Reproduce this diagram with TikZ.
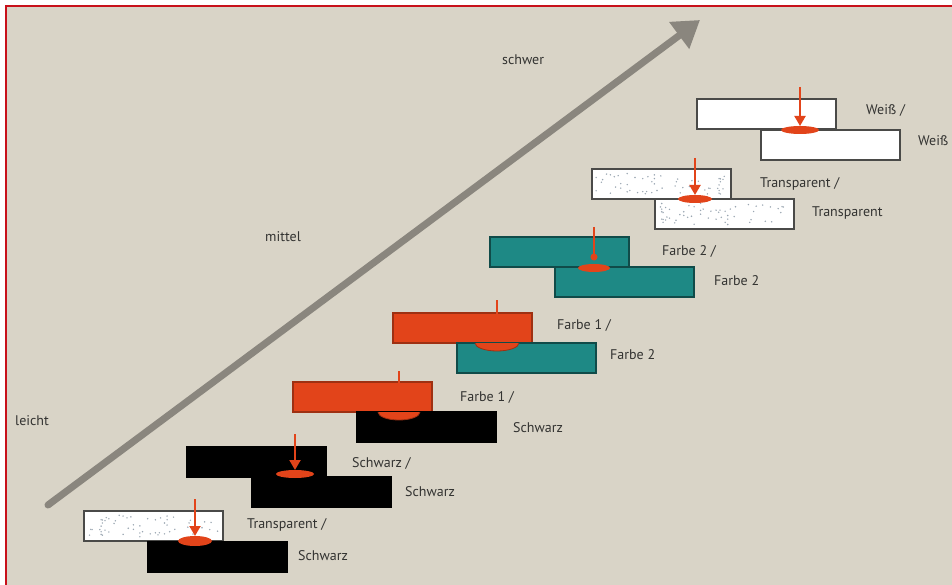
\documentclass[tikz,border=0pt]{standalone}
\usepackage{fontspec}
\setmainfont{PT Sans}
\usetikzlibrary{arrows.meta,calc}
\definecolor{bg}{HTML}{D9D4C7}
\definecolor{frame}{HTML}{C8101A}
\definecolor{bigarrow}{HTML}{8A867E}
\definecolor{rd}{HTML}{E2441A}
\definecolor{tl}{HTML}{1E8985}
\definecolor{boxline}{HTML}{4A4A48}
\definecolor{txt}{HTML}{333331}
\definecolor{speck}{HTML}{9AA6B2}
\tikzset{
  plate/.style={draw=boxline, line width=1.3pt, minimum width=139pt, minimum height=30pt, inner sep=0pt, outer sep=0pt, anchor=north west},
  whiteplate/.style={plate, fill=white},
  redplate/.style={plate, fill=rd, draw=rd!70!black},
  tealplate/.style={plate, fill=tl, draw=tl!55!black},
  blackplate/.style={plate, fill=black, draw=black},
  lbl/.style={anchor=west, text=txt, inner sep=0pt, font=\fontsize{14}{16}\selectfont},
  redarrow/.style={draw=rd, line width=2pt, -{Triangle[length=10pt,width=11pt]}},
  redtick/.style={draw=rd, line width=2pt},
  weld/.style={fill=rd},
}
\newcommand{\specks}[2]{%
  \begin{scope}
    \clip (#1.south west) rectangle (#1.north east);
    \foreach \i in {1,...,55}{
      \pgfmathsetmacro{\rx}{0.03+0.94*mod(mod(\i*\i,97)*17+\i*31+#2,101)/101}
      \pgfmathsetmacro{\ry}{mod(mod(\i*\i,89)*29+\i*13+#2*5,83)/83}
      \fill[speck] ($(#1.north west)!\rx!(#1.north east) + (0,4+22*\ry)$) circle (0.8pt);
    }
  \end{scope}}
\begin{document}
\begin{tikzpicture}[x=1pt,y=-1pt]
\useasboundingbox (0,0) rectangle (952,585);
\clip (0,0) rectangle (952,585);
\fill[white] (0,0) rectangle (952,585);
\fill[bg] (6,6) rectangle (952,585);
\draw[frame, line width=2.2pt] (6,585) -- (6,6) -- (952,6);

% big arrow
\coordinate (as) at (48,505);
\coordinate (ae) at (700,20);
\draw[bigarrow, line width=7pt, line cap=round, -{Triangle[length=26pt,width=32pt]}] (as) -- (ae);

\node[lbl] (schwer) at (502,60) {schwer};
\node[lbl] (mittel) at (265,237) {mittel};
\node[lbl] (leicht) at (15,421) {leicht};

% 1 Weiss / Weiss
\node[whiteplate] (w1) at (697,99) {};
\node[whiteplate] (w2) at (761,130) {};
\fill[weld] (800,130) ellipse [x radius=19, y radius=4];
\coordinate (w0) at (800,87);
\coordinate (wt) at (800,126);
\draw[redarrow] (w0) -- (wt);
\node[lbl] (wl1) at (866,110) {Weiß /};
\node[lbl] (wl2) at (918,141) {Weiß};

% 2 Transparent / Transparent
\node[whiteplate] (t1) at (592,169) {};
\specks{t1}{3}
\node[whiteplate] (t2) at (655,199) {};
\specks{t2}{11}
\fill[weld] (695,199) ellipse [x radius=17, y radius=4];
\coordinate (t0) at (695,158);
\coordinate (tt) at (695,195);
\draw[redarrow] (t0) -- (tt);
\node[lbl] (tl1) at (760,184) {Transparent /};
\node[lbl] (tl2) at (812,213) {Transparent};

% 3 Farbe 2 / Farbe 2
\node[tealplate] (f1) at (490,237) {};
\node[tealplate] (f2) at (555,267) {};
\fill[weld] (594,268) ellipse [x radius=16, y radius=4];
\coordinate (f0) at (594,227);
\draw[redtick, line width=1.6pt] (f0) -- (594,256);
\fill[rd] (594,257) circle (3.5pt);
\node[lbl] (fl1) at (662,251) {Farbe 2 /};
\node[lbl] (fl2) at (714,281) {Farbe 2};

% 4 Farbe 1 / Farbe 2
\node[redplate] (g1) at (393,313) {};
\node[tealplate] (g2) at (457,343) {};
\begin{scope}
  \clip (457,343.6) rectangle (596,373);
  \filldraw[fill=rd, draw=rd!70!black, line width=0.8pt] (497,343) ellipse [x radius=22, y radius=8];
\end{scope}
\coordinate (g0) at (497,300);
\draw[redtick] (g0) -- (497,314);
\node[lbl] (gl1) at (557,325) {Farbe 1 /};
\node[lbl] (gl2) at (610,355) {Farbe 2};

% 5 Farbe 1 / Schwarz
\node[redplate] (h1) at (293,382) {};
\node[blackplate] (h2) at (357,412) {};
\begin{scope}
  \clip (357,412.6) rectangle (496,442);
  \filldraw[fill=rd, draw=rd!70!black, line width=0.8pt] (399,412) ellipse [x radius=21, y radius=8];
\end{scope}
\coordinate (h0) at (399,371);
\draw[redtick] (h0) -- (399,383);
\node[lbl] (hl1) at (460,397) {Farbe 1 /};
\node[lbl] (hl2) at (513,428) {Schwarz};

% 6 Schwarz / Schwarz
\node[blackplate] (s1) at (187,447) {};
\node[blackplate] (s2) at (252,477) {};
\fill[weld] (295,474) ellipse [x radius=19, y radius=4];
\coordinate (s0) at (295,434);
\coordinate (st) at (295,470);
\draw[redarrow] (s0) -- (st);
\node[lbl] (sl1) at (352,463) {Schwarz /};
\node[lbl] (sl2) at (405,492) {Schwarz};

% 7 Transparent / Schwarz
\node[whiteplate] (p1) at (84,511) {};
\specks{p1}{19}
\node[blackplate] (p2) at (148,542) {};
\fill[weld] (195,541) ellipse [x radius=17, y radius=5];
\coordinate (p0) at (195,499);
\coordinate (pt) at (195,536);
\draw[redarrow] (p0) -- (pt);
\node[lbl] (pl1) at (247,525) {Transparent /};
\node[lbl] (pl2) at (298,556) {Schwarz};
\end{tikzpicture}
\end{document}
